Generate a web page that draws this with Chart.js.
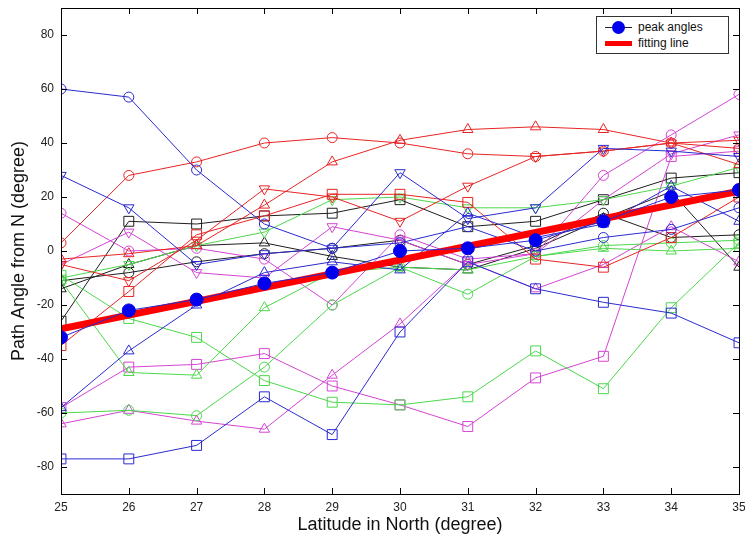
<!DOCTYPE html>
<html>
<head>
<meta charset="utf-8">
<script src="https://cdn.jsdelivr.net/npm/chart.js@4.4.1/dist/chart.umd.min.js"></script>
<style>
  html, body { margin: 0; padding: 0; background: #fff; }
  #wrap { position: relative; width: 745px; height: 544px; }
  #legend {
    position: absolute; left: 596px; top: 16px; width: 131px; height: 36px;
    border: 1px solid #333; background: #fff;
    font-family: "Liberation Sans", Arial, sans-serif; font-size: 12px; color: #111;
  }
  .row { position: absolute; left: 0; height: 16px; width: 131px; }
  .row span.t { position: absolute; left: 41px; top: 1px; }
  .sym-line { position: absolute; left: 8px; width: 27px; }
</style>
</head>
<body>
<div id="wrap">
  <canvas id="c" width="745" height="544"></canvas>
  <div id="legend">
    <div class="row" style="top:2px">
      <div class="sym-line" style="top:8px;height:1px;background:#222"></div>
      <div style="position:absolute;left:15px;top:2px;width:13px;height:13px;border-radius:50%;background:#0000ee"></div>
      <span class="t">peak angles</span>
    </div>
    <div class="row" style="top:18px">
      <div class="sym-line" style="top:6px;height:5px;background:#ff0000"></div>
      <span class="t">fitting line</span>
    </div>
  </div>
</div>
<script>
// latitudes (x axis)
const lat = [25, 26, 27, 28, 29, 30, 31, 32, 33, 34, 35];
const yTicks = [-80, -60, -40, -20, 0, 20, 40, 60, 80];

// path angles, one array per curve
const blueCircle  = [60, 57, 30, 10, 1, 3, 9, 0, 5, 8, 16];
const blueDown    = [28, 16, -5, -1, 1, 29, 12, 16, 38, 37, 35];
const blueSquare  = [-77, -77, -72, -54, -68, -30, -4, -14, -19, -23, -34];
const blueUp      = [-58, -37, -20, -8, -4, -7, 14, 5, 10, 24, 11];
const redCircle   = [3, 28, 33, 40, 42, 40, 36, 35, 37, 40, 38];
const redUp       = [-3, -1, 2, 17, 33, 41, 45, 46, 45, 40, 32];
const redDown     = [-5, -11, 4, 23, 20, 11, 24, 35, 37, 40, 41];
const redSquare   = [-35, -15, 6, 13, 21, 21, 18, -3, -6, 5, 20];
const greenSquare = [-9, -25, -32, -48, -56, -57, -54, -37, -51, -21, 3];
const greenCircle = [-60, -59, -61, -43, -20, -6, -16, -2, 2, 3, 4];
const greenUp     = [-11, -45, -46, -21, -8, -6, -7, -2, 1, 0, 1];
const greenDown   = [-10, -5, 2, 7, 19, 20, 16, 16, 19, 24, 31];
const magCircle   = [14, 0, 1, -3, -20, 6, -3, -1, 28, 43, 58];
const magDown     = [-5, 7, -8, -10, 9, 4, -5, -1, 19, 36, 43];
const magSquare   = [-58, -43, -42, -38, -50, -57, -65, -47, -39, 35, 37];
const magUp       = [-64, -59, -63, -66, -46, -27, -4, -14, -5, 9, -4];
const blackSquare = [-26, 11, 10, 13, 14, 19, 9, 11, 19, 27, 29];
const blackUp     = [-14, -5, 2, 3, -2, -6, -7, 1, 12, 22, -6];
const blackCircle = [-11, -8, -4, -1, 1, 4, -5, 2, 14, 5, 6];

const peakAngles  = [-32, -22, -18, -12, -8, 0, 1, 4, 11, 20, 22.6];
const fitLat      = [25, 35];
const fitAngle    = [-28.8, 22.2];

const BLUE = '#2a2ad0', RED = '#e82424', GREEN = '#4cd84c', MAG = '#d444d4', BLACK = '#1e1e1e';

function pts(xs, ys) {
    return xs.map((x, i) => ({ x: x, y: ys[i] }));
}

// one thin curve with hollow markers
function curve(values, color, shape) {
    let style = shape, rot = 0, r = 5;
    if (shape === 'down') { style = 'triangle'; rot = 180; r = 6; }
    if (shape === 'triangle') r = 6;
    if (shape === 'rect') r = 7;
    return {
        data: pts(lat, values),
        borderColor: color,
        borderWidth: 1,
        pointStyle: style,
        pointRotation: rot,
        pointRadius: r,
        pointBorderColor: color,
        pointBorderWidth: 1,
        pointBackgroundColor: 'rgba(0,0,0,0)',
        tension: 0,
        order: 2
    };
}

const datasets = [
    {
        label: 'peak angles',
        data: pts(lat, peakAngles),
        borderColor: BLUE,
        borderWidth: 1,
        pointStyle: 'circle',
        pointRadius: 6.5,
        pointBackgroundColor: '#0000ee',
        pointBorderColor: '#0000ee',
        order: 0
    },
    {
        label: 'fitting line',
        data: pts(fitLat, fitAngle),
        borderColor: '#ff0000',
        borderWidth: 7,
        pointRadius: 0,
        order: 1
    },
    curve(blueCircle, BLUE, 'circle'),
    curve(blueDown, BLUE, 'down'),
    curve(blueSquare, BLUE, 'rect'),
    curve(blueUp, BLUE, 'triangle'),
    curve(redCircle, RED, 'circle'),
    curve(redUp, RED, 'triangle'),
    curve(redDown, RED, 'down'),
    curve(redSquare, RED, 'rect'),
    curve(greenSquare, GREEN, 'rect'),
    curve(greenCircle, GREEN, 'circle'),
    curve(greenUp, GREEN, 'triangle'),
    curve(greenDown, GREEN, 'down'),
    curve(magCircle, MAG, 'circle'),
    curve(magDown, MAG, 'down'),
    curve(magSquare, MAG, 'rect'),
    curve(magUp, MAG, 'triangle'),
    curve(blackSquare, BLACK, 'rect'),
    curve(blackUp, BLACK, 'triangle'),
    curve(blackCircle, BLACK, 'circle')
];

// box round the plot and short inward ticks on all four sides
const boxTicks = {
    id: 'boxTicks',
    afterDraw(chart) {
        const ctx = chart.ctx, a = chart.chartArea;
        const xs = chart.scales.x, ys = chart.scales.y;
        ctx.save();
        ctx.strokeStyle = '#000';
        ctx.lineWidth = 1;
        ctx.strokeRect(Math.round(a.left) + 0.5, Math.round(a.top) + 0.5,
            Math.round(a.right - a.left), Math.round(a.bottom - a.top));
        ctx.beginPath();
        lat.forEach(v => {
            const px = Math.round(xs.getPixelForValue(v)) + 0.5;
            ctx.moveTo(px, a.bottom); ctx.lineTo(px, a.bottom - 6);
            ctx.moveTo(px, a.top); ctx.lineTo(px, a.top + 6);
        });
        yTicks.forEach(v => {
            const py = Math.round(ys.getPixelForValue(v)) + 0.5;
            ctx.moveTo(a.left, py); ctx.lineTo(a.left + 6, py);
            ctx.moveTo(a.right, py); ctx.lineTo(a.right - 6, py);
        });
        ctx.stroke();
        ctx.restore();
    }
};

new Chart(document.getElementById('c'), {
    type: 'line',
    data: { datasets: datasets },
    options: {
        responsive: false,
        animation: false,
        layout: { autoPadding: false, padding: { top: 8, right: 6, left: 0, bottom: 0 } },
        plugins: { legend: { display: false }, tooltip: { enabled: false } },
        scales: {
            x: {
                type: 'linear', min: 25, max: 35,
                grid: { display: false, drawTicks: false },
                border: { display: false },
                afterFit: s => { s.height = 50; s.paddingLeft = 0; s.paddingRight = 0; },
                afterBuildTicks: s => { s.ticks = lat.map(v => ({ value: v })); },
                ticks: { color: '#222', padding: 6, font: { family: 'Liberation Sans', size: 12 } },
                title: {
                    display: true, text: 'Latitude in North (degree)', color: '#111',
                    font: { family: 'Liberation Sans', size: 18 }, padding: { top: 0, bottom: 8 }
                }
            },
            y: {
                min: -90, max: 90,
                grid: { display: false, drawTicks: false },
                border: { display: false },
                afterFit: s => { s.width = 61; s.paddingTop = 0; s.paddingBottom = 0; },
                afterBuildTicks: s => { s.ticks = yTicks.map(v => ({ value: v })); },
                ticks: { color: '#222', padding: 7, font: { family: 'Liberation Sans', size: 12 } },
                title: {
                    display: true, text: 'Path Angle from N (degree)', color: '#111',
                    font: { family: 'Liberation Sans', size: 18 }, padding: { top: 8, bottom: 0 }
                }
            }
        }
    },
    plugins: [boxTicks]
});
</script>
</body>
</html>
